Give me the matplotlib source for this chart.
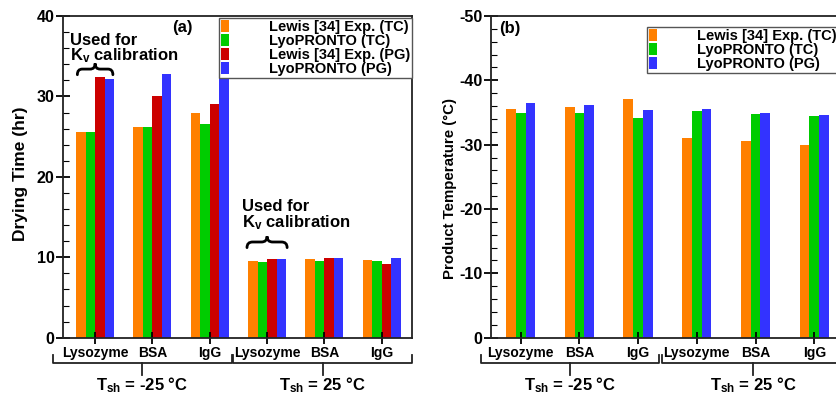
import numpy as np
import matplotlib
matplotlib.use('Agg')
import matplotlib.pyplot as plt
from matplotlib.path import Path
from matplotlib.patches import PathPatch
from matplotlib.ticker import MultipleLocator

plt.rcParams['font.family'] = ['Liberation Sans', 'DejaVu Sans']
plt.rcParams['font.weight'] = 'bold'
plt.rcParams['axes.unicode_minus'] = False
plt.rcParams['mathtext.fontset'] = 'custom'
plt.rcParams['mathtext.rm'] = 'Liberation Sans:bold'
plt.rcParams['mathtext.bf'] = 'Liberation Sans:bold'
plt.rcParams['mathtext.it'] = 'Liberation Sans:bold'

# primary drying results, Lewis [34] vs LyoPRONTO
proteins = ['Lysozyme', 'BSA', 'IgG', 'Lysozyme', 'BSA', 'IgG']
shelf_temps = [r'T$_{\mathbf{sh}}$ = -25 °C', r'T$_{\mathbf{sh}}$ = 25 °C']

drying_exp_tc = [25.6, 26.2, 27.9, 9.55, 9.8, 9.6]
drying_lyo_tc = [25.6, 26.2, 26.6, 9.45, 9.5, 9.55]
drying_exp_pg = [32.4, 30.0, 29.1, 9.75, 9.85, 9.2]
drying_lyo_pg = [32.2, 32.8, 34.5, 9.8, 9.85, 9.95]

temp_exp_tc = [-35.6, -35.9, -37.1, -31.0, -30.5, -29.9]
temp_lyo_tc = [-35.0, -34.9, -34.1, -35.3, -34.8, -34.4]
temp_lyo_pg = [-36.5, -36.2, -35.4, -35.5, -35.0, -34.65]

lbl_exp_tc = 'Lewis [34] Exp. (TC)'
lbl_lyo_tc = 'LyoPRONTO (TC)'
lbl_exp_pg = 'Lewis [34] Exp. (PG)'
lbl_lyo_pg = 'LyoPRONTO (PG)'

C_ORANGE = '#ff8000'
C_GREEN = '#00cc00'
C_RED = '#cc0000'
C_BLUE = '#3333ff'

W = 0.166
x = np.arange(1, len(proteins) + 1)
KV_NOTE = 'Used for\n' + r'K$_{\mathbf{v}}$ calibration'


def brace(ax, xc, half, y0, h, lw=2.0):
    # horizontal curly brace, tip pointing up
    ym = y0 + h / 2.
    r = 0.28 * half
    xl, xr = xc - half, xc + half
    verts = [(xl, y0), (xl, ym), (xl + r, ym),
             (xc - r, ym),
             (xc, ym), (xc, y0 + h),
             (xc, ym), (xc + r, ym),
             (xr - r, ym),
             (xr, ym), (xr, y0)]
    codes = [Path.MOVETO, Path.CURVE3, Path.CURVE3,
             Path.LINETO,
             Path.CURVE3, Path.CURVE3,
             Path.CURVE3, Path.CURVE3,
             Path.LINETO,
             Path.CURVE3, Path.CURVE3]
    ax.add_patch(PathPatch(Path(verts, codes), fill=False, lw=lw,
                           color='black', capstyle='round', zorder=4))


def group_brackets(ax, spans):
    trans = ax.get_xaxis_transform()
    for (a, b), lab in zip(spans, shelf_temps):
        m = 0.5 * (a + b)
        ax.plot([a, a, b, b], [-0.055, -0.08, -0.08, -0.055], color='#222222',
                lw=1.3, transform=trans, clip_on=False)
        ax.plot([m, m], [-0.08, -0.115], color='#222222', lw=1.3,
                transform=trans, clip_on=False)
        ax.text(m, -0.165, lab, transform=trans, ha='center', va='baseline',
                fontsize=12, fontweight='bold')


def style_axes(ax):
    for sp in ax.spines.values():
        sp.set_linewidth(1.3)
        sp.set_color('#222222')
    ax.set_xticks(x)
    ax.set_xticklabels(proteins, fontsize=10)
    ax.tick_params(axis='x', direction='inout', length=8, width=1.3, pad=2)
    ax.tick_params(axis='y', which='major', direction='inout', length=10,
                   width=1.3, pad=1, labelsize=11.5)
    ax.tick_params(axis='y', which='minor', direction='in', length=4,
                   width=0.8)
    ax.yaxis.set_minor_locator(MultipleLocator(2))


def boxed_legend(ax, anchor):
    leg = ax.legend(loc='upper left', bbox_to_anchor=anchor,
                    borderaxespad=0, fontsize=10.5, handlelength=0.55,
                    handleheight=0.8, handletextpad=2.7, labelspacing=0,
                    borderpad=0.15, fancybox=False, framealpha=1)
    leg.get_frame().set_edgecolor('#555555')
    leg.get_frame().set_linewidth(1.0)
    return leg


fig = plt.figure(figsize=(8.37, 3.98), dpi=100)

# (a) drying time
ax1 = fig.add_axes([0.0753, 0.1515, 0.4170, 0.8083])
ax1.bar(x - 1.5 * W, drying_exp_tc, W, color=C_ORANGE, label=lbl_exp_tc)
ax1.bar(x - 0.5 * W, drying_lyo_tc, W, color=C_GREEN, label=lbl_lyo_tc)
ax1.bar(x + 0.5 * W, drying_exp_pg, W, color=C_RED, label=lbl_exp_pg)
ax1.bar(x + 1.5 * W, drying_lyo_pg, W, color=C_BLUE, label=lbl_lyo_pg)
ax1.set_xlim(0.44, 6.53)
ax1.set_ylim(0, 40)
ax1.yaxis.set_major_locator(MultipleLocator(10))
style_axes(ax1)
ax1.set_ylabel('Drying Time (hr)', fontsize=12.5, fontweight='bold',
               va='center')
ax1.yaxis.set_label_coords(-0.123, 0.509)
ax1.text(0.343, 0.965, '(a)', transform=ax1.transAxes, ha='center',
         va='center', fontsize=12)
boxed_legend(ax1, (0.447, 0.994))

ax1.text(0.564, 37.9, KV_NOTE, ha='left', va='top', fontsize=12,
         linespacing=0.9)
brace(ax1, 1.0, 0.31, 32.7, 1.4)
ax1.text(3.57, 17.2, KV_NOTE, ha='left', va='top', fontsize=12,
         linespacing=0.9)
brace(ax1, 4.0, 0.35, 11.2, 1.4)
group_brackets(ax1, [(0.26, 3.39), (3.41, 6.53)])

# (b) product temperature
ax2 = fig.add_axes([0.5866, 0.1515, 0.4213, 0.8083])
ax2.bar(x - W, temp_exp_tc, W, color=C_ORANGE, label=lbl_exp_tc)
ax2.bar(x, temp_lyo_tc, W, color=C_GREEN, label=lbl_lyo_tc)
ax2.bar(x + W, temp_lyo_pg, W, color=C_BLUE, label=lbl_lyo_pg)
ax2.set_xlim(0.494, 6.5)
ax2.set_ylim(0, -50)
ax2.yaxis.set_major_locator(MultipleLocator(10))
style_axes(ax2)
ax2.set_ylabel('Product Temperature (°C)', fontsize=10.8,
               fontweight='bold', va='center')
ax2.yaxis.set_label_coords(-0.116, 0.464)
ax2.text(0.052, 0.96, '(b)', transform=ax2.transAxes, ha='center',
         va='center', fontsize=12)
boxed_legend(ax2, (0.4424, 0.966))
group_brackets(ax2, [(0.324, 3.357), (3.41, 6.51)])

fig.savefig('out.png', dpi=100)
